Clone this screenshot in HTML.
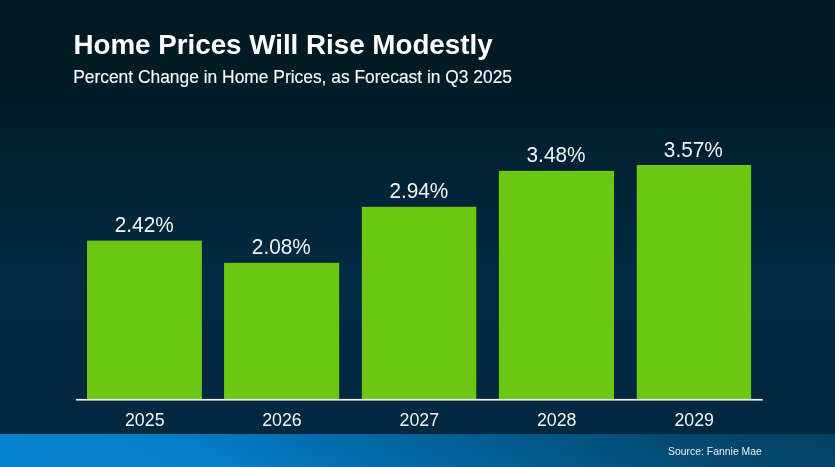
<!DOCTYPE html>
<html lang="en">
<head>
<meta charset="utf-8">
<title>Home Prices Will Rise Modestly</title>
<style>
html,body{margin:0;padding:0;}
body{width:835px;height:467px;overflow:hidden;background:#03202e;font-family:"Liberation Sans",sans-serif;color:#fff;}
#stage{position:relative;width:835px;height:467px;overflow:hidden;
  background:linear-gradient(180deg,rgb(2,26,36) 0px,rgb(2,26,36) 55px,rgb(2,29,42) 100px,rgb(2,32,48) 140px,rgb(2,36,55) 190px,rgb(2,39,60) 235px,rgb(3,44,67) 285px,rgb(2,41,63) 330px,rgb(2,40,64) 434px);}
#band{position:absolute;left:0;top:433.5px;width:835px;height:34px;
  background:linear-gradient(25.9deg,rgb(5,132,210) 0%,rgb(5,130,207) 3.9%,rgb(5,126,201) 26%,rgb(4,115,184) 34.8%,rgb(3,101,161) 50.3%,rgb(3,87,136) 65.8%,rgb(3,73,113) 81.2%,rgb(3,67,102) 96.1%,rgb(3,65,99) 100%);}
h1{position:absolute;margin:0;left:73.4px;top:29.2px;font-size:27.75px;line-height:32px;font-weight:bold;white-space:nowrap;letter-spacing:0;}
h2{position:absolute;margin:0;left:73.2px;top:66.2px;font-size:17.4px;line-height:22px;font-weight:normal;white-space:nowrap;color:#f6f8f9;-webkit-text-stroke:0.15px #f6f8f9;transform:scaleY(1.02);transform-origin:0 17px;}
.val{position:absolute;width:114px;text-align:center;font-size:20.8px;line-height:24px;white-space:nowrap;color:#f2f5f6;transform:scaleY(1.036);transform-origin:50% 19.2px;}
.yr{position:absolute;width:114px;text-align:center;font-size:17.8px;line-height:20px;top:410px;white-space:nowrap;color:#f2f5f6;transform:scaleY(1.026);transform-origin:50% 16.2px;}
#src{position:absolute;left:668.1px;top:444.6px;font-size:10.42px;line-height:14px;white-space:nowrap;color:#e8eef2;}
</style>
</head>
<body>
<div id="stage">
  <div id="band"></div>
  <h1>Home Prices Will Rise Modestly</h1>
  <h2>Percent Change in Home Prices, as Forecast in Q3 2025</h2>

  <svg id="chart" width="835" height="467" viewBox="0 0 835 467" style="position:absolute;left:0;top:0">
    <rect x="87.0" y="240.62" width="114.9" height="158.88" fill="#6cc713"/>
    <rect x="224.05" y="262.87" width="115.15" height="136.63" fill="#6cc713"/>
    <rect x="361.85" y="206.78" width="114.45" height="192.72" fill="#6cc713"/>
    <rect x="498.85" y="170.87" width="115.15" height="228.63" fill="#6cc713"/>
    <rect x="636.75" y="164.96" width="114.35" height="234.54" fill="#6cc713"/>
    <rect x="75.9" y="398.9" width="686.9" height="1.3" fill="#eef1f1"/>
    <rect x="75.9" y="400.2" width="686.9" height="0.8" fill="#aab4b9"/>
  </svg>
  <div class="val" style="left:87.25px;top:213.23px">2.42%</div>
  <div class="val" style="left:224.32px;top:235.48px">2.08%</div>
  <div class="val" style="left:361.88px;top:179.39px">2.94%</div>
  <div class="val" style="left:499.03px;top:143.48px">3.48%</div>
  <div class="val" style="left:636.32px;top:137.57px">3.57%</div>

  <div class="yr" style="left:87.75px">2025</div>
  <div class="yr" style="left:224.93px">2026</div>
  <div class="yr" style="left:362.38px">2027</div>
  <div class="yr" style="left:499.73px">2028</div>
  <div class="yr" style="left:637.22px">2029</div>

  <div id="src">Source: Fannie Mae</div>
</div>
</body>
</html>
